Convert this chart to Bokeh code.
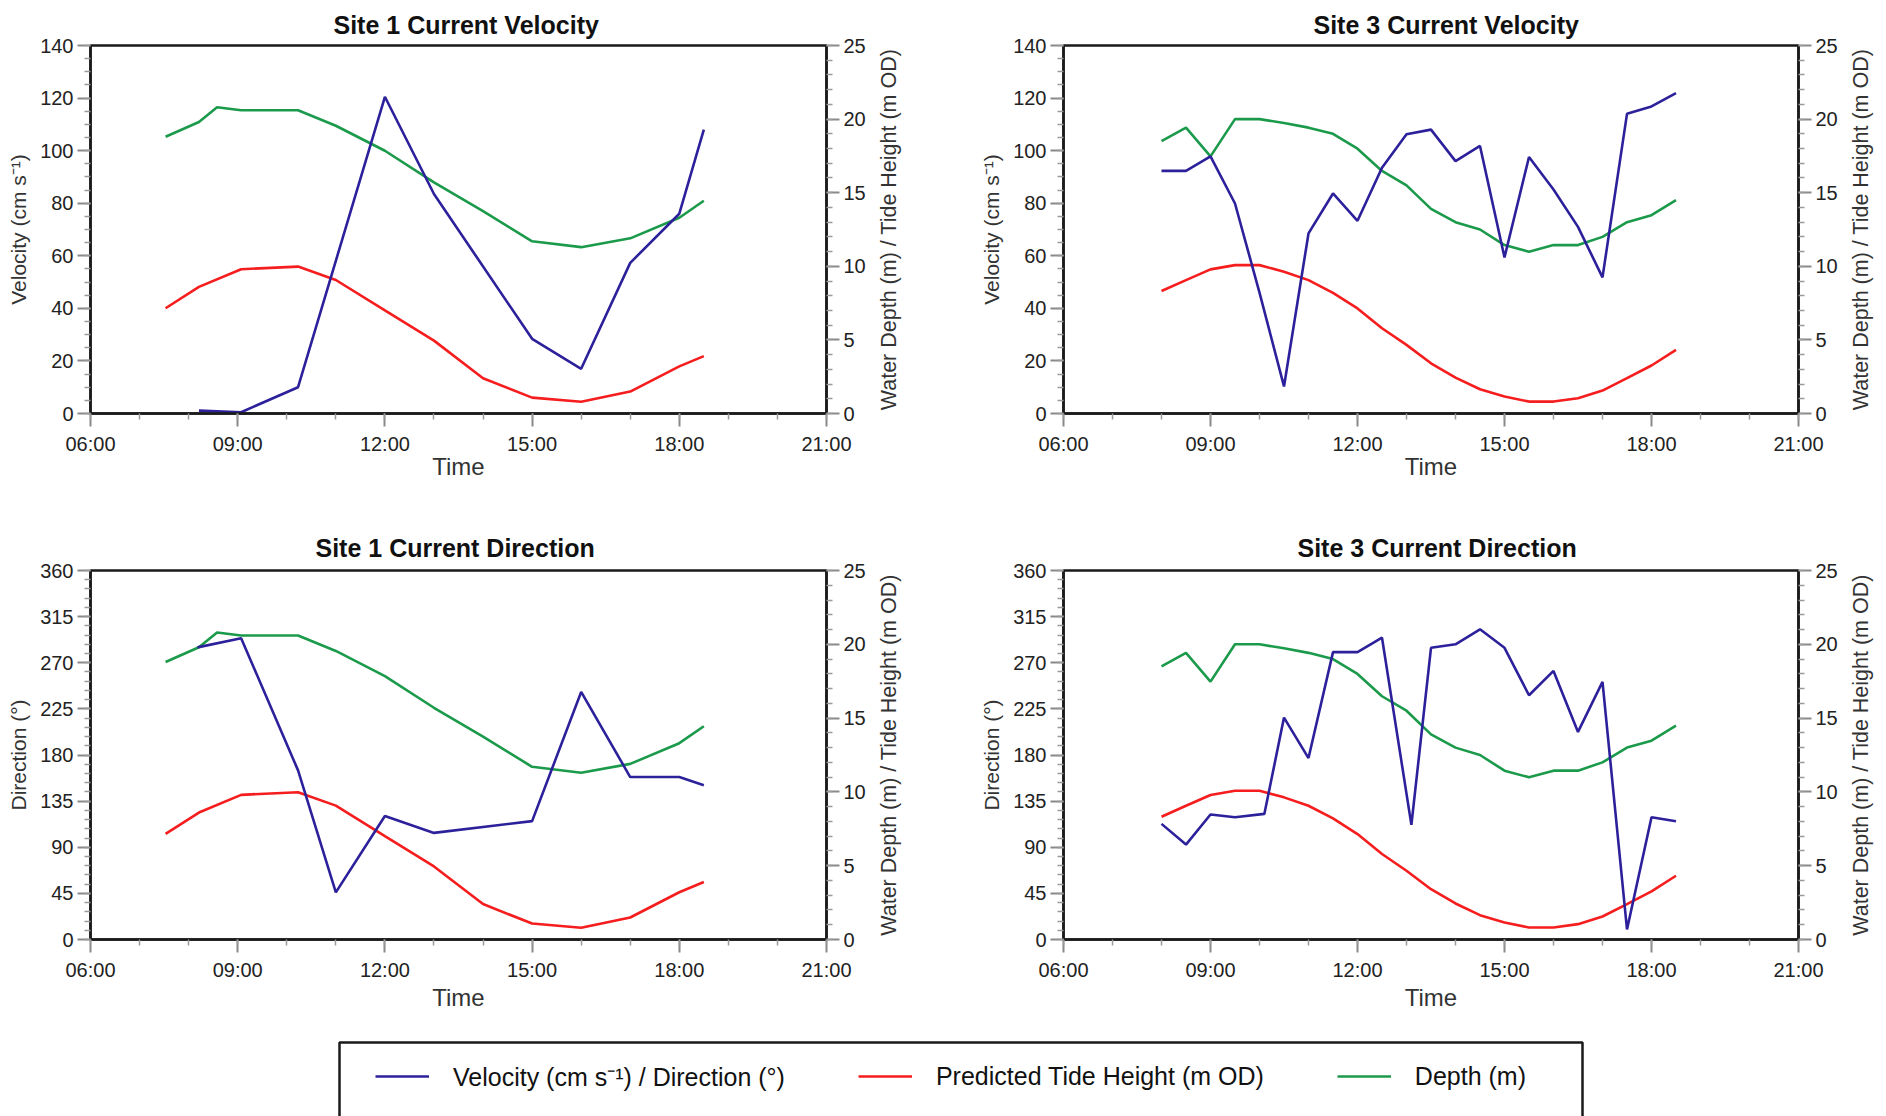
import math
from bokeh.plotting import figure
from bokeh.models import (Range1d, LinearAxis, FixedTicker, Legend, LegendItem,
                          BoxAnnotation, Label)
from bokeh.layouts import column, row
from bokeh.embed import file_html
from bokeh.resources import INLINE

# ---------------- data ----------------
x_tick_values = [6, 9, 12, 15, 18, 21]
x_tick_labels = ["06:00", "09:00", "12:00", "15:00", "18:00", "21:00"]
x_minor_ticks = list(range(6, 22))

vel_ticks = list(range(0, 141, 20))
vel_minor = list(range(0, 141, 5))
dir_ticks = list(range(0, 361, 45))
dir_minor = list(range(0, 361, 9))
h_ticks = list(range(0, 26, 5))
h_minor = list(range(0, 26, 1))

# Site 1 (times in decimal hours)
site1_vel_time = [8.21, 9.07, 10.23, 12.0, 13.0, 15.0, 16.0, 17.0, 18.0, 18.5]
site1_velocity = [1.1, 0.5, 10.0, 120.5, 83.5, 28.4, 17.0, 57.3, 76.0, 108.0]
site1_dir_time = [8.18, 9.07, 10.23, 11.0, 12.0, 13.0, 15.0, 16.0, 17.0, 18.0, 18.5]
site1_direction = [285, 294, 165, 46, 120.5, 104, 115.5, 241.5, 158.5, 158.5, 150.5]
site1_tide_time = [7.53, 8.21, 9.07, 10.23, 11.0, 12.0, 13.0, 14.0, 15.0, 16.0, 17.0, 18.0, 18.5]
site1_tide = [7.15, 8.6, 9.8, 9.98, 9.07, 7.0, 4.95, 2.4, 1.08, 0.8, 1.49, 3.2, 3.9]
site1_depth_time = [7.53, 8.21, 8.58, 9.07, 10.23, 11.0, 12.0, 13.0, 14.0, 15.0, 16.0, 17.0, 18.0, 18.5]
site1_depth = [18.8, 19.8, 20.8, 20.6, 20.6, 19.55, 17.85, 15.7, 13.75, 11.7, 11.3, 11.9, 13.3, 14.45]

# Site 3
site3_vel_time = [8.0, 8.5, 9.0, 9.5, 10.0, 10.5, 11.0, 11.5, 12.0, 12.5, 13.0,
                  13.5, 14.0, 14.5, 15.0, 15.5, 16.0, 16.5, 17.0, 17.5, 18.0, 18.5]
site3_velocity = [92.3, 92.3, 97.8, 79.9, 46.0, 10.3, 68.5, 83.7, 73.3, 93.5, 106.2,
                  108.0, 96.0, 101.8, 59.4, 97.6, 85.2, 71.0, 51.8, 114.0, 116.8, 121.9]
site3_dir_time = [8.0, 8.5, 9.0, 9.5, 10.1, 10.5, 11.0, 11.5, 12.0, 12.5, 13.1,
                  13.5, 14.0, 14.5, 15.0, 15.5, 16.0, 16.5, 17.0, 17.5, 18.0, 18.5]
site3_direction = [112.8, 92.6, 122, 119.3, 122.6, 216.5, 177, 280.4, 280.4, 294.4, 111.8,
                   284.6, 288, 302.6, 284.6, 238.3, 262, 202.5, 251.4, 9.8, 119.3, 115.4]
site3_tide_time = [8.0, 8.5, 9.0, 9.5, 10.0, 10.5, 11.0, 11.5, 12.0, 12.5, 13.0,
                   13.5, 14.0, 14.5, 15.0, 15.5, 16.0, 16.5, 17.0, 17.5, 18.0, 18.5]
site3_tide = [8.32, 9.06, 9.79, 10.08, 10.08, 9.63, 9.06, 8.2, 7.14, 5.79, 4.66,
              3.41, 2.44, 1.65, 1.15, 0.81, 0.81, 1.04, 1.56, 2.40, 3.26, 4.32]
site3_depth_time = site3_tide_time
site3_depth = [18.51, 19.42, 17.47, 20.0, 20.0, 19.73, 19.42, 19.0, 17.99, 16.48, 15.5,
               13.9, 13.0, 12.5, 11.44, 10.99, 11.44, 11.44, 12.0, 13.0, 13.47, 14.49]

legend_labels = ["Velocity (cm s\u207b\u00b9) / Direction (\u00b0)",
                 "Predicted Tide Height (m OD)", "Depth (m)"]
right_axis_label = "Water Depth (m) / Tide Height (m OD)"

# ---------------- style ----------------
FONT = "Liberation Sans"
BLUE = "#2d219b"
RED = "#f51d1d"
GREEN = "#1c9a4b"
LW = 2.6


def style_axis(ax, label_size="21px"):
    ax.axis_line_color = "#1a1a1a"
    ax.axis_line_width = 2.5
    ax.major_tick_out = 13
    ax.major_tick_in = 0
    ax.minor_tick_out = 6
    ax.minor_tick_in = 0
    ax.major_tick_line_color = "#8a8a8a"
    ax.major_tick_line_width = 2
    ax.minor_tick_line_color = "#9a9a9a"
    ax.minor_tick_line_width = 1.5
    ax.major_label_text_font = FONT
    ax.major_label_text_font_size = "20px"
    ax.major_label_text_color = "#222222"
    ax.major_label_standoff = 4
    ax.axis_label_text_font = FONT
    ax.axis_label_text_font_size = label_size
    ax.axis_label_text_font_style = "normal"
    ax.axis_label_text_color = "#333333"


def panel(title, ylab, ymax, yticks, yminor, w, h, bl, br, bt, bb, title_off, title_standoff,
          xlab_standoff, cur_t, cur_v, tide_t, tide_v, dep_t, dep_v):
    p = figure(width=w, height=h, output_backend="svg", toolbar_location=None,
               x_range=Range1d(6, 21), y_range=Range1d(0, ymax),
               min_border_left=bl, min_border_right=br, min_border_top=bt, min_border_bottom=bb,
               x_axis_label="Time", y_axis_label=ylab)
    p.extra_y_ranges = {"h": Range1d(0, 25)}
    ax2 = LinearAxis(y_range_name="h")
    ax2.ticker = FixedTicker(ticks=h_ticks, minor_ticks=h_minor)
    p.add_layout(ax2, "right")

    p.xaxis.ticker = FixedTicker(ticks=x_tick_values, minor_ticks=x_minor_ticks)
    p.xaxis.major_label_overrides = dict(zip(x_tick_values, x_tick_labels))
    p.yaxis[0].ticker = FixedTicker(ticks=yticks, minor_ticks=yminor)
    for ax in p.yaxis:
        style_axis(ax)
    for ax in p.xaxis:
        style_axis(ax, "24px")
        ax.major_label_standoff = 6
        ax.axis_label_standoff = xlab_standoff
    p.yaxis[0].axis_label_standoff = 7

    p.xgrid.visible = False
    p.ygrid.visible = False
    p.outline_line_color = "#1a1a1a"
    p.outline_line_width = 2.5
    p.background_fill_color = "white"
    p.border_fill_color = "white"

    p.title.text = title
    p.title.align = "left"
    p.title.offset = title_off
    p.title.standoff = title_standoff
    p.title.text_font = FONT
    p.title.text_font_size = "25px"
    p.title.text_font_style = "bold"
    p.title.text_color = "#111111"

    p.line(dep_t, dep_v, color=GREEN, line_width=LW, y_range_name="h")
    p.line(tide_t, tide_v, color=RED, line_width=LW, y_range_name="h")
    p.line(cur_t, cur_v, color=BLUE, line_width=LW)
    return p


def side_label(w, h, cx):
    """Narrow strip holding the right-hand axis title, reading bottom-to-top.
    Its frame is aligned with the neighbouring plot frame, so the range centre
    is the frame centre."""
    f = figure(width=w, height=h, output_backend="svg", toolbar_location=None,
               x_range=Range1d(0, w), y_range=Range1d(0, 1), min_border=0,
               x_axis_type=None, y_axis_type=None, outline_line_color=None)
    f.grid.visible = False
    f.add_layout(Label(x=cx, y=0.5, angle=math.pi / 2, text=right_axis_label,
                       text_align="center", text_baseline="middle", text_font=FONT,
                       text_font_size="21.5px", text_color="#333333"))
    return f


p1 = panel("Site 1 Current Velocity", "Velocity (cm s\u207b\u00b9)", 140, vel_ticks, vel_minor,
           870, 500, 90, 44, 45, 87, 243, 14, -5,
           site1_vel_time, site1_velocity, site1_tide_time, site1_tide, site1_depth_time, site1_depth)
p2 = panel("Site 3 Current Velocity", "Velocity (cm s\u207b\u00b9)", 140, vel_ticks, vel_minor,
           934, 500, 157, 41, 45, 87, 250, 14, -5,
           site3_vel_time, site3_velocity, site3_tide_time, site3_tide, site3_depth_time, site3_depth)
p3 = panel("Site 1 Current Direction", "Direction (\u00b0)", 360, dir_ticks, dir_minor,
           870, 530, 90, 44, 70, 91, 225, 17, 0,
           site1_dir_time, site1_direction, site1_tide_time, site1_tide, site1_depth_time, site1_depth)
p4 = panel("Site 3 Current Direction", "Direction (\u00b0)", 360, dir_ticks, dir_minor,
           934, 530, 157, 41, 70, 91, 234, 17, 0,
           site3_dir_time, site3_direction, site3_tide_time, site3_tide, site3_depth_time, site3_depth)

s1 = side_label(36, 500, 18)
s2 = side_label(46, 500, 20)
s3 = side_label(36, 530, 18)
s4 = side_label(46, 530, 20)

# ---------------- legend strip ----------------
leg = figure(width=1886, height=86, output_backend="svg", toolbar_location=None,
             x_range=Range1d(0, 1886), y_range=Range1d(0, 86), min_border=0,
             x_axis_type=None, y_axis_type=None, outline_line_color=None)
leg.grid.visible = False
nan = float("nan")
r_b = leg.line(x=[nan], y=[nan], color=BLUE, line_width=2.6)
r_r = leg.line(x=[nan], y=[nan], color=RED, line_width=2.6)
r_g = leg.line(x=[nan], y=[nan], color=GREEN, line_width=2.6)
legend = Legend(items=[LegendItem(label=legend_labels[0], renderers=[r_b]),
                       LegendItem(label=legend_labels[1], renderers=[r_r]),
                       LegendItem(label=legend_labels[2], renderers=[r_g])],
                location=(375, 23), orientation="horizontal", padding=0, spacing=73,
                glyph_width=54, glyph_height=30, label_height=30, label_standoff=24,
                label_text_font=FONT, label_text_font_size="25px", label_text_color="#111111",
                border_line_color=None, background_fill_alpha=0, margin=0)
leg.add_layout(legend)
leg.add_layout(BoxAnnotation(left=339, right=1582, bottom=-10, top=74, fill_alpha=0,
                             line_color="#1a1a1a", line_alpha=1.0, line_width=2.5))

layout = column(row(p1, s1, p2, s2), row(p3, s3, p4, s4), leg)
open("out.html", "w").write(file_html(layout, INLINE))
